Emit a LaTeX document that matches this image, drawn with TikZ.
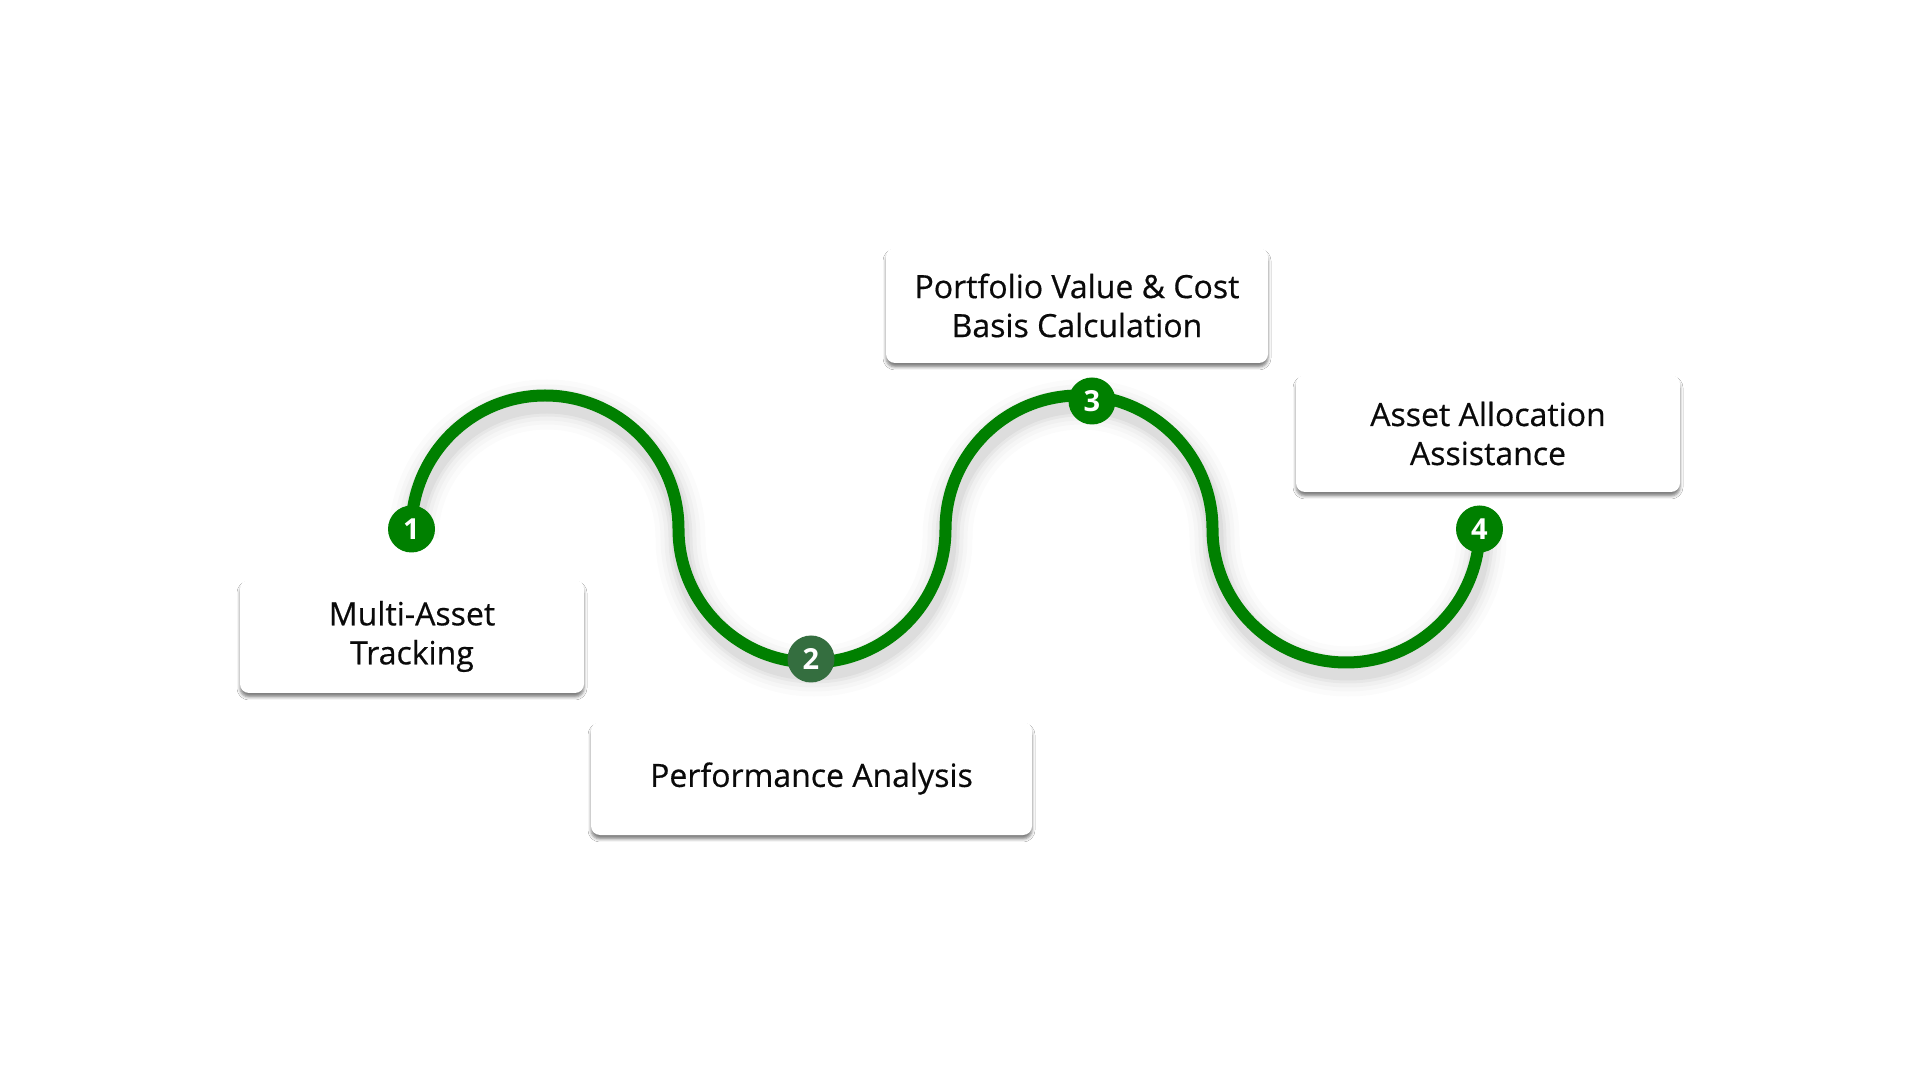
\documentclass[tikz,border=0pt]{standalone}
\usepackage{fontspec}
\setmainfont{Open Sans}
\newfontfamily\cardfont{Open Sans}[FakeBold=0.5]
\usetikzlibrary{shadows.blur}
\definecolor{pathgreen}{HTML}{008000}
\definecolor{darkstep}{HTML}{346E3F}
\definecolor{cardtext}{HTML}{0A0A0A}
\newcommand\wavepath{arc[start angle=180,end angle=0,radius=133.5] arc[start angle=180,end angle=360,radius=133.5] arc[start angle=180,end angle=0,radius=133.5] arc[start angle=180,end angle=360,radius=133.5]}
\tikzset{
  card/.style={fill=white, rounded corners=9pt,
    blur shadow={shadow xshift=0pt, shadow yshift=-4pt, shadow blur radius=3pt, shadow opacity=50},
    align=center, font=\cardfont\fontsize{32}{39}\selectfont, text=cardtext, inner sep=0pt},
  badge/.style={circle, fill=pathgreen, minimum size=47pt, inner sep=0pt, text=white,
    font=\fontsize{29}{29}\selectfont\bfseries},
  wave/.style={line width=12pt, draw=pathgreen},
}
\begin{document}
\begin{tikzpicture}[x=1pt,y=1pt]
\useasboundingbox (0,0) rectangle (1920,1080);
\fill[white] (0,0) rectangle (1920,1080);
% cards
\node[card, minimum width=344pt, minimum height=113pt] (card1) at (412,443.5) {Multi-Asset\\Tracking};
\node[card, minimum width=441pt, minimum height=113pt] (card2) at (811.5,301.5) {Performance Analysis};
\node[card, minimum width=382pt, minimum height=115pt] (card3) at (1077,774.5) {Portfolio Value \& Cost\\Basis Calculation};
\node[card, minimum width=384pt, minimum height=117pt] (card4) at (1488,646.5) {Asset Allocation\\Assistance};
% wave start
\coordinate (wstart) at (411.5,551);
\coordinate (wshadow) at (413.5,542);
% soft shadow of the wave
\foreach \w/\o in {50/0.015,40/0.02,32/0.025,24/0.035,18/0.045} {
  \draw[line width=\w pt, black, opacity=\o] (wshadow) \wavepath;
}
% the wave
\draw[wave] (wstart) \wavepath coordinate (wend);
% badges
\node[badge] (b1) at (wstart) {1};
\node[badge, fill=darkstep] (b2) at (811,421) {2};
\node[badge] (b3) at (1092,679) {3};
\node[badge] (b4) at (wend) {4};
\end{tikzpicture}
\end{document}
